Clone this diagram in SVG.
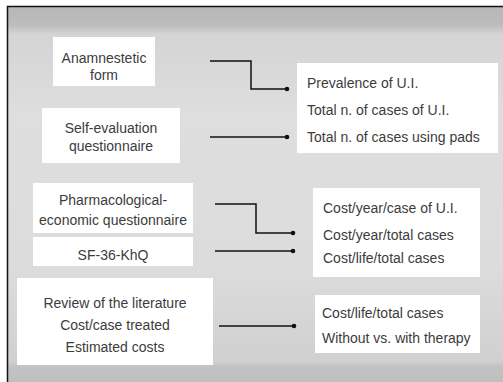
<svg xmlns="http://www.w3.org/2000/svg" width="503" height="382" viewBox="0 0 503 382">
<defs>
<linearGradient id="bg" x1="0" y1="0" x2="0" y2="382" gradientUnits="userSpaceOnUse">
<stop offset="0" stop-color="#b6b6b6"/>
<stop offset="0.065" stop-color="#bcbcbc"/>
<stop offset="0.09" stop-color="#d4d4d4"/>
<stop offset="0.3" stop-color="#dedede"/>
<stop offset="0.7" stop-color="#dcdcdc"/>
<stop offset="0.945" stop-color="#d0d0d0"/>
<stop offset="0.96" stop-color="#c2c2c2"/>
<stop offset="1" stop-color="#bfbfbf"/>
</linearGradient>
<marker id="dot" markerWidth="6" markerHeight="6" refX="3" refY="3" markerUnits="userSpaceOnUse">
<circle cx="3" cy="3" r="2.3" fill="#111"/>
</marker>
</defs>
<style>
.box{fill:#ffffff;}
.t{font-family:"Liberation Sans",Arial,sans-serif;font-size:14px;fill:#3c3c3c;}
.c{text-anchor:middle;}
.ln{fill:none;stroke:#111;stroke-width:1.5;marker-end:url(#dot);}
</style>
<rect x="0" y="0" width="503" height="382" fill="#ffffff"/>
<rect x="7" y="6" width="496" height="376" fill="url(#bg)"/>
<path d="M7.5 382 V6.5 H503" fill="none" stroke="#111" stroke-width="1.5"/>

<g id="anamnestetic">
<rect class="box" x="53" y="37" width="102" height="49"/>
<text class="t c" x="104" y="63">Anamnestetic</text>
<text class="t c" x="104" y="80">form</text>
</g>
<g id="self-evaluation">
<rect class="box" x="42" y="108" width="138" height="55"/>
<text class="t c" x="111" y="133">Self-evaluation</text>
<text class="t c" x="111" y="151">questionnaire</text>
</g>
<g id="prevalence">
<rect class="box" x="297" y="63" width="201" height="90"/>
<text class="t" x="307" y="88">Prevalence of U.I.</text>
<text class="t" x="307" y="115">Total n. of cases of U.I.</text>
<text class="t" x="307" y="142">Total n. of cases using pads</text>
</g>
<g id="pharmacological">
<rect class="box" x="33" y="183" width="160" height="50"/>
<text class="t c" x="113" y="205">Pharmacological-</text>
<text class="t c" x="113" y="225">economic questionnaire</text>
</g>
<g id="sf36">
<rect class="box" x="33" y="237" width="160" height="29"/>
<text class="t c" x="113" y="260">SF-36-KhQ</text>
</g>
<g id="cost-year">
<rect class="box" x="313" y="188" width="167" height="89"/>
<text class="t" x="323" y="213">Cost/year/case of U.I.</text>
<text class="t" x="323" y="240">Cost/year/total cases</text>
<text class="t" x="323" y="263">Cost/life/total cases</text>
</g>
<g id="review">
<rect class="box" x="17" y="278" width="196" height="87"/>
<text class="t c" x="115" y="308">Review of the literature</text>
<text class="t c" x="115" y="330">Cost/case treated</text>
<text class="t c" x="115" y="352">Estimated costs</text>
</g>
<g id="cost-life">
<rect class="box" x="315" y="295" width="165" height="58"/>
<text class="t" x="322" y="318">Cost/life/total cases</text>
<text class="t" x="322" y="343">Without vs. with therapy</text>
</g>

<g id="connectors">
<path class="ln" d="M210 61 H251 V89 H287"/>
<path class="ln" d="M210 137 H287"/>
<path class="ln" d="M215 204 H256 V233 H293"/>
<path class="ln" d="M215 251 H293"/>
<path class="ln" d="M219 326 H294"/>
</g>
</svg>
